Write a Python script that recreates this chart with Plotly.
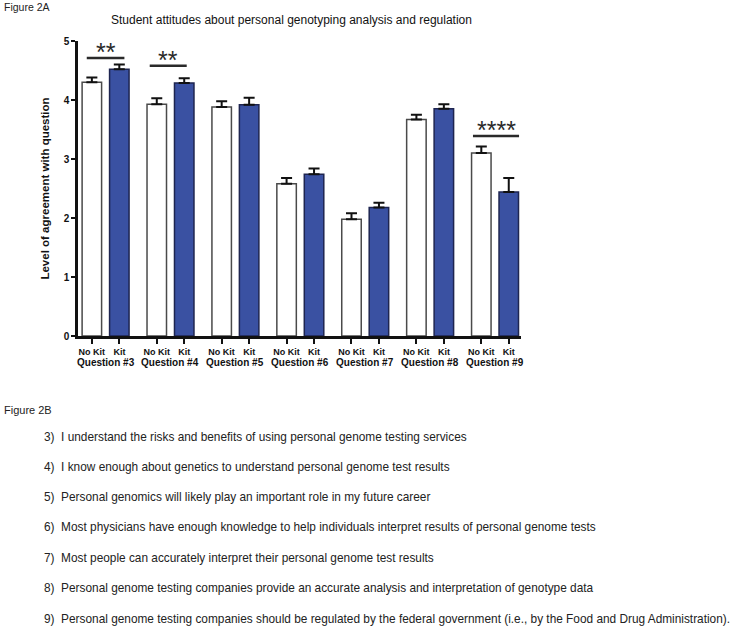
import plotly.graph_objects as go

questions = ["Question #3", "Question #4", "Question #5", "Question #6",
             "Question #7", "Question #8", "Question #9"]
no_kit = [4.30, 3.93, 3.88, 2.58, 1.98, 3.67, 3.10]
no_kit_err = [0.08, 0.10, 0.10, 0.10, 0.10, 0.08, 0.11]
kit = [4.52, 4.29, 3.92, 2.74, 2.18, 3.85, 2.44]
kit_err = [0.08, 0.08, 0.12, 0.10, 0.08, 0.08, 0.24]
group_labels = ["No Kit", "Kit"]

sig_questions = [0, 1, 6]
sig_heights = [4.71, 4.58, 3.39]
sig_stars = ["**", "**", "****"]

statements = [
    "3)&nbsp;&nbsp;I understand the risks and benefits of using personal genome testing services",
    "4)&nbsp;&nbsp;I know enough about genetics to understand personal genome test results",
    "5)&nbsp;&nbsp;Personal genomics will likely play an important role in my future career",
    "6)&nbsp;&nbsp;Most physicians have enough knowledge to help individuals interpret results of personal genome tests",
    "7)&nbsp;&nbsp;Most people can accurately interpret their personal genome test results",
    "8)&nbsp;&nbsp;Personal genome testing companies provide an accurate analysis and interpretation of genotype data",
    "9)&nbsp;&nbsp;Personal genome testing companies should be regulated by the federal government (i.e., by the Food and Drug Administration).",
]

W, H = 735, 628
L, R, T, B = 78, 521, 41, 336
pw, ph = R - L, B - T

def px(x):
    return (x - L) / pw

def py(y):
    return (B - y) / ph

idx = list(range(len(questions)))
off = 0.2125

fig = go.Figure()
fig.add_trace(go.Bar(
    x=idx, y=no_kit, name="No Kit", offsetgroup="a",
    marker=dict(color="white", line=dict(color="#4a4a4a", width=1.5)),
    error_y=dict(type="data", array=no_kit_err, arrayminus=[0] * 7, symmetric=False,
                 color="#111111", thickness=2, width=5.5),
))
fig.add_trace(go.Bar(
    x=idx, y=kit, name="Kit", offsetgroup="b",
    marker=dict(color="#3A51A2", line=dict(color="#1e2550", width=1.5)),
    error_y=dict(type="data", array=kit_err, arrayminus=[0] * 7, symmetric=False,
                 color="#111111", thickness=2, width=5.5),
))

tickvals, ticktext = [], []
for i in idx:
    tickvals += [i - off, i + off]
    ticktext += group_labels

fig.update_layout(
    template="none",
    width=W, height=H,
    margin=dict(l=L, r=W - R, t=T, b=H - B, pad=0, autoexpand=False),
    paper_bgcolor="white", plot_bgcolor="white",
    barmode="group", bargap=0.154, bargroupgap=0.29,
    showlegend=False,
    font=dict(family="Arial, Liberation Sans", color="#111111"),
    xaxis=dict(
        automargin=False,
        range=[-0.425, 6.4], tickmode="array", tickvals=tickvals, ticktext=ticktext,
        showline=True, linecolor="#111111", linewidth=2.5, ticks="outside",
        ticklen=5, tickwidth=2, tickcolor="#111111", showgrid=False, zeroline=False,
        tickfont=dict(size=9, family="Arial", weight="bold", color="#111111"),
    ),
    yaxis=dict(
        automargin=False,
        range=[0, 5], tickvals=[0, 1, 2, 3, 4, 5], showline=True, linecolor="#111111",
        linewidth=2.5, ticks="outside", ticklen=4, tickwidth=2, tickcolor="#111111",
        showgrid=False, zeroline=False,
        tickfont=dict(size=10, family="Arial", weight="bold", color="#111111"),
        title=dict(text="Level of agreement with question", standoff=12,
                   font=dict(size=11.5, family="Arial", weight="bold", color="#111111")),
    ),
)

# question labels
for i, q in enumerate(questions):
    fig.add_annotation(x=i, y=0, xref="x", yref="paper", yanchor="top", yshift=-19,
                       text=f"<b>{q}</b>", showarrow=False,
                       font=dict(size=10, family="Arial", color="#111111"))

# significance lines
sig_spans = [(-0.29, 0.29), (-0.32, 0.25), (-0.34, 0.37)]
for qi, h, s, (a, b) in zip(sig_questions, sig_heights, sig_stars, sig_spans):
    fig.add_shape(type="line", x0=qi + a, x1=qi + b, y0=h, y1=h, xref="x", yref="y",
                  line=dict(color="#2a2a2a", width=2.5))
    fig.add_annotation(x=qi + (a + b) / 2, y=h, xref="x", yref="y", yanchor="middle",
                       yshift=6, text=s, showarrow=False,
                       font=dict(size=25, family="Arial", color="#2a2a2a"))

# title
fig.add_annotation(x=px(291), y=py(20), xref="paper", yref="paper",
                   xanchor="center", yanchor="middle",
                   text="Student attitudes about personal genotyping analysis and regulation",
                   showarrow=False, font=dict(size=12, family="Arial", color="#111111"))

cond = "Arial, Liberation Sans"
fig.add_annotation(x=px(2), y=py(7), xref="paper", yref="paper", xanchor="left",
                   yanchor="middle", text="Figure 2A", showarrow=False,
                   font=dict(size=10.5, family=cond, color="#222222"))
fig.add_annotation(x=px(2), y=py(410), xref="paper", yref="paper", xanchor="left",
                   yanchor="middle", text="Figure 2B", showarrow=False,
                   font=dict(size=11, family=cond, color="#222222"))

ys = [437, 467, 497, 527, 558, 588, 619]
for t, yy in zip(statements, ys):
    fig.add_annotation(x=px(42), y=py(yy), xref="paper", yref="paper", xanchor="left",
                       yanchor="middle", text=t, showarrow=False,
                       font=dict(size=11.85, family=cond, color="#222222"))

fig.write_html("out.html", config={"displayModeBar": False},
               post_script="document.body.style.margin='0';document.body.style.overflow='hidden';")
